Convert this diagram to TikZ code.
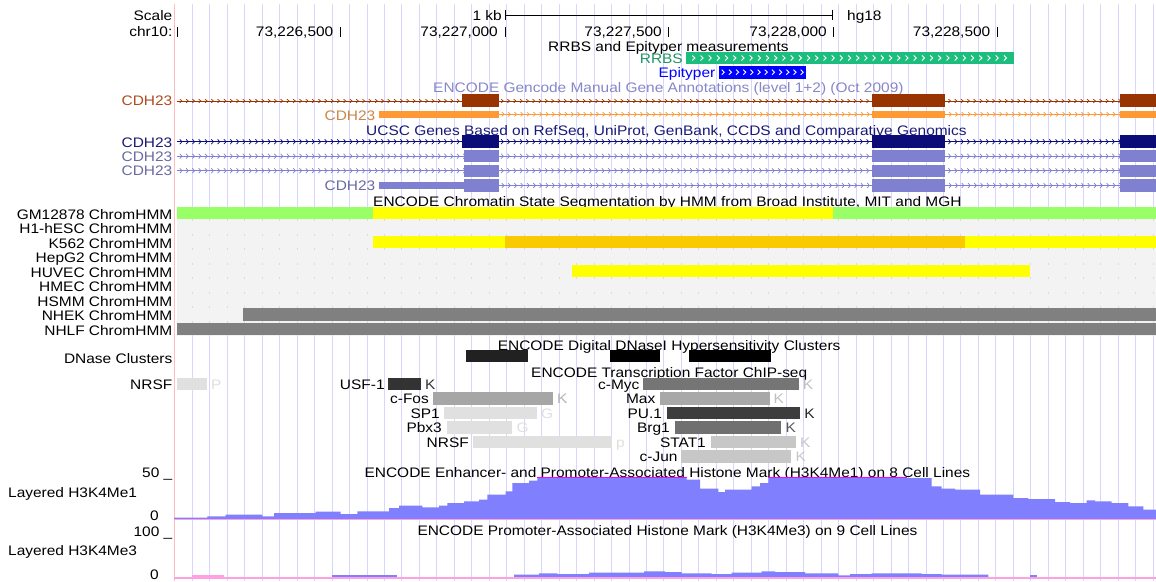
\documentclass[tikz,border=0pt]{standalone}
\usepackage{fontspec}
\setmainfont{Liberation Sans}[FakeStretch=1.12]
\definecolor{gridc}{RGB}{214,214,255}
\definecolor{pinkv}{RGB}{255,190,190}
\definecolor{rrbsg}{RGB}{29,190,125}
\definecolor{rrbst}{RGB}{30,150,100}
\definecolor{epib}{RGB}{0,0,255}
\definecolor{gencT}{RGB}{135,135,200}
\definecolor{brownc}{RGB}{153,51,0}
\definecolor{brownT}{RGB}{175,75,30}
\definecolor{orangec}{RGB}{255,153,51}
\definecolor{orangeT}{RGB}{200,135,70}
\definecolor{navyc}{RGB}{12,12,120}
\definecolor{navyT}{RGB}{25,25,120}
\definecolor{lavc}{RGB}{128,128,208}
\definecolor{lavT}{RGB}{105,105,165}
\definecolor{hmmbg}{RGB}{243,243,243}
\definecolor{hmmgreen}{RGB}{153,255,102}
\definecolor{hmmyellow}{RGB}{255,255,0}
\definecolor{hmmorange}{RGB}{250,202,0}
\definecolor{hmmgray}{RGB}{128,128,128}
\definecolor{histblue}{RGB}{128,128,255}
\definecolor{histpink}{RGB}{255,160,225}
\definecolor{magentac}{RGB}{255,0,255}
\newcommand{\chevrons}[6]{%
  \pgfmathsetmacro{\chevsec}{#3+#4}%
  \foreach \cx in {#3,\chevsec,...,#5}{\draw[#1,line width=0.7] (\cx-1.2,#2-#6) -- (\cx+1.0,#2) -- (\cx-1.2,#2+#6);}}
\newcommand{\tfitem}[9]{%
  \node[lbl,anchor=base east] (#9l) at (#2,#5+11.6) {#1};
  \fill[#6] (#3,#5) rectangle (#4,#5+12.3);
  \node[lbl,anchor=base west,text=#8] (#9k) at (#4+4,#5+11.6) {#7};}
\begin{document}
\begin{tikzpicture}[x=1pt,y=-1pt,
  lbl/.style={inner sep=0pt,font=\fontsize{13.8}{16}\selectfont}]
\useasboundingbox (0,0) rectangle (1156,581);
\fill[white] (0,0) rectangle (1156,581);
% grid
\foreach \k in {0,...,55}{\draw[gridc,line width=1] ({192.3+\k*17.47},4) -- ({192.3+\k*17.47},581);}
\draw[pinkv,line width=1.4] (174.5,4) -- (174.5,581);
% chromHMM background
\fill[hmmbg] (177,206.5) rectangle (1156,335.5);
\foreach \k in {0,...,55}{\draw[gridc,line width=1,dash pattern=on 2pt off 12.5pt] ({192.3+\k*17.47},219.2) -- ({192.3+\k*17.47},335.5);}

% ---------- texts ----------
\node[lbl,anchor=base east] (scale) at (172.5,20.7) {Scale};
\node[lbl,anchor=base east] (chr) at (172.5,36.7) {chr10:};
\node[lbl,anchor=base east] (p1) at (333.5,36.7) {73,226,500};
\node[lbl,anchor=base east] (p2) at (498,36.7) {73,227,000};
\node[lbl,anchor=base east] (p3) at (662,36.7) {73,227,500};
\node[lbl,anchor=base east] (p4) at (827,36.7) {73,228,000};
\node[lbl,anchor=base east] (p5) at (990.5,36.7) {73,228,500};
\node[lbl,anchor=base east] (kb) at (502,20.5) {1 kb};
\node[lbl,anchor=base west] (hg) at (847,20.5) {hg18};
\node[lbl,anchor=base west] (rrbstitle) at (548,51.3) {RRBS and Epityper measurements};
\node[lbl,anchor=base east,text=rrbst] (rrbsl) at (683,63.3) {RRBS};
\node[lbl,anchor=base east,text=epib] (epil) at (715.5,77.7) {Epityper};
\node[lbl,anchor=base west,text=gencT] (genct) at (433,92.7) {ENCODE Gencode Manual Gene Annotations (level 1+2) (Oct 2009)};
\node[lbl,anchor=base east,text=brownT] (g1) at (172.5,105.7) {CDH23};
\node[lbl,anchor=base east,text=orangeT] (g2) at (375.5,120) {CDH23};
\node[lbl,anchor=base west,text=navyT] (ucsct) at (366,135.7) {UCSC Genes Based on RefSeq, UniProt, GenBank, CCDS and Comparative Genomics};
\node[lbl,anchor=base east,text=navyT] (g3) at (172.5,147.3) {CDH23};
\node[lbl,anchor=base east,text=lavT] (g4) at (172.5,161.7) {CDH23};
\node[lbl,anchor=base east,text=lavT] (g5) at (172.5,175.7) {CDH23};
\node[lbl,anchor=base east,text=lavT] (g6) at (375.5,190.7) {CDH23};
\node[lbl,anchor=base west] (hmmt) at (373,206.7) {ENCODE Chromatin State Segmentation by HMM from Broad Institute, MIT and MGH};
\foreach \nm [count=\i from 0] in {GM12878,H1-hESC,K562,HepG2,HUVEC,HMEC,HSMM,NHEK,NHLF}{
  \node[lbl,anchor=base east] (hmm\i) at (172.5,219+14.5*\i) {\nm{} ChromHMM};}
\node[lbl,anchor=base west] (dnt) at (497.6,350) {ENCODE Digital DNaseI Hypersensitivity Clusters};
\node[lbl,anchor=base east] (dnl) at (172.5,363.3) {DNase Clusters};
\node[lbl,anchor=base west] (tft) at (531,377.7) {ENCODE Transcription Factor ChIP-seq};
\node[lbl,anchor=base west] (h1t) at (364.4,477.7) {ENCODE Enhancer- and Promoter-Associated Histone Mark (H3K4Me1) on 8 Cell Lines};
\node[lbl,anchor=base east] (h1max) at (172.5,477.7) {50 \_};
\node[lbl,anchor=base west] (h1l) at (8,497.7) {Layered H3K4Me1};
\node[lbl,anchor=base east] (h1min) at (159,520) {0};
\node[lbl,anchor=base west] (h3t) at (417.3,535.7) {ENCODE Promoter-Associated Histone Mark (H3K4Me3) on 9 Cell Lines};
\node[lbl,anchor=base east] (h3max) at (172.5,536.7) {100 \_};
\node[lbl,anchor=base west] (h3l) at (8,555) {Layered H3K4Me3};
\node[lbl,anchor=base east] (h3min) at (159,579) {0};

% ---------- ruler ----------
\draw[black,line width=1] (505.4,15) -- (832.6,15);
\draw[black,line width=1] (505.4,10.3) -- (505.4,19.7);
\draw[black,line width=1] (832.6,9.5) -- (832.6,20);
\foreach \tx in {177,340,505.4,668.5,833,997}{\draw[black,line width=1] (\tx,27) -- (\tx,36.5);}

% ---------- RRBS / Epityper ----------
\fill[rrbsg] (686,52) rectangle (1014,64);
\foreach \i in {0,...,38}{\draw[white,line width=0.9] ({693.6+\i*8.2-1.3},55.5) -- ({693.6+\i*8.2+1.3},58) -- ({693.6+\i*8.2-1.3},60.5);}
\fill[epib] (719,66) rectangle (806,78.5);
\foreach \i in {0,...,11}{\draw[white,line width=0.9] ({723+\i*7.18-1.3},69.7) -- ({723+\i*7.18+1.3},72.2) -- ({723+\i*7.18-1.3},74.7);}

% ---------- gene tracks ----------
% Gencode brown
\draw[brownc,line width=0.8] (177,101) -- (1156,101);
\chevrons{brownc}{101}{181}{6.3}{1154}{1.8}
\fill[brownc] (462.4,94) rectangle (498.7,106.5);
\fill[brownc] (872,94) rectangle (945,106.5);
\fill[brownc] (1120,94) rectangle (1156,106.5);
% Gencode orange
\fill[orangec] (379,111) rectangle (498.7,117.5);
\draw[orangec,line width=0.8] (498.7,114.2) -- (1156,114.2);
\chevrons{orangec}{114.2}{503}{6.3}{1154}{2.2}
\fill[orangec] (872,111) rectangle (945,117.5);
\fill[orangec] (1120,111) rectangle (1156,117.5);
% UCSC navy
\draw[navyc,line width=0.8] (177,141.7) -- (1156,141.7);
\chevrons{navyc}{141.7}{181}{6.3}{1154}{2.4}
\fill[navyc] (462.4,135) rectangle (498.7,148.3);
\fill[navyc] (872,135) rectangle (945,148.3);
\fill[navyc] (1120,135) rectangle (1156,148.3);
% UCSC lavender 1
\draw[lavc,line width=0.8] (177,156.2) -- (1156,156.2);
\chevrons{lavc}{156.2}{181}{6.3}{1154}{2.4}
\fill[lavc] (463.5,150) rectangle (498.7,162.4);
\fill[lavc] (872,150) rectangle (945,162.4);
\fill[lavc] (1120,150) rectangle (1156,162.4);
% UCSC lavender 2
\draw[lavc,line width=0.8] (177,170.7) -- (1156,170.7);
\chevrons{lavc}{170.7}{181}{6.3}{1154}{2.4}
\fill[lavc] (463.5,164.6) rectangle (498.7,177);
\fill[lavc] (872,164.6) rectangle (945,177);
\fill[lavc] (1120,164.6) rectangle (1156,177);
% UCSC lavender 3
\fill[lavc] (379,182) rectangle (463.5,189);
\fill[lavc] (463.5,179) rectangle (498.7,191.6);
\draw[lavc,line width=0.8] (498.7,185.5) -- (1156,185.5);
\chevrons{lavc}{185.5}{503}{6.3}{1154}{2.4}
\fill[lavc] (872,179) rectangle (945,191.6);
\fill[lavc] (1120,179) rectangle (1156,191.6);

% ---------- ChromHMM ----------
\fill[hmmgreen] (177,206.7) rectangle (373,219.2);
\fill[hmmyellow] (373,206.7) rectangle (833,219.2);
\fill[hmmgreen] (833,206.7) rectangle (1156,219.2);
\fill[hmmyellow] (373,235.7) rectangle (505,248.2);
\fill[hmmorange] (505,235.7) rectangle (965,248.2);
\fill[hmmyellow] (965,235.7) rectangle (1156,248.2);
\fill[hmmyellow] (571.6,264.7) rectangle (1030,277.2);
\fill[hmmgray] (243,308.2) rectangle (1156,320.7);
\fill[hmmgray] (177,322.7) rectangle (1156,335.2);

% ---------- DNase ----------
\fill[black!87] (466,350) rectangle (528,362.3);
\fill[black] (610.4,350) rectangle (660,362.3);
\fill[black] (688.8,350) rectangle (771,362.3);

% ---------- TF ChIP-seq ----------
\tfitem{NRSF}{172.5}{177}{207}{377.7}{black!12}{P}{black!12}{nrsfa}
\tfitem{USF-1}{384.8}{387.7}{421}{377.7}{black!80}{K}{black!80}{usf}
\tfitem{c-Myc}{639.6}{642.6}{798.7}{377.7}{black!54}{K}{black!25}{myc}
\tfitem{c-Fos}{429}{432.8}{553}{392.2}{black!35}{K}{black!30}{fos}
\tfitem{Max}{655.5}{660.4}{769.5}{392.2}{black!34}{K}{black!25}{max}
\tfitem{SP1}{440}{444}{537}{406.7}{black!12}{G}{black!12}{sp}
\tfitem{PU.1}{662.2}{667.4}{800.2}{406.7}{black!76}{K}{black!85}{pu}
\tfitem{Pbx3}{442}{446.5}{512.4}{421.2}{black!12}{G}{black!12}{pbx}
\tfitem{Brg1}{670}{674.8}{781.3}{421.2}{black!56}{K}{black!65}{brg}
\tfitem{NRSF}{469}{472.8}{612}{435.7}{black!12}{p}{black!12}{nrsfb}
\tfitem{STAT1}{706}{710.7}{795.8}{435.7}{black!22}{K}{black!22}{stat}
\tfitem{c-Jun}{677.7}{681.4}{791.3}{450.2}{black!22}{K}{black!22}{jun}

% ---------- H3K4Me1 histogram ----------
\fill[histblue] (174,518.8) -- (174,517.5) -| (207.3,516.3) -| (225.7,514.7) -| (262.3,516.3)
 -| (274,513) -| (315.7,511.7) -| (340.7,514) -| (357.3,511.3) -| (389,508) -| (399,505.7)
 -| (422.3,507.3) -| (439,505.7) -| (447.3,503) -| (464,501.3) -| (479,499.7) -| (487.3,494.7)
 -| (505.7,491.3) -| (512.3,483) -| (529,480.7) -| (537.3,477.3) -| (686.7,479.7) -| (700,488.7)
 -| (718.3,492) -| (725,489.7) -| (751.7,486.3) -| (760,483) -| (768.3,477.3) -| (906.7,478)
 -| (931.7,486.3) -| (941.7,488.7) -| (955,489.7) -| (980,494.7) -| (1013.3,498) -| (1028.3,499)
 -| (1055,502) -| (1070,503) -| (1086.7,500.3) -| (1095,501.3) -| (1111.7,503) -| (1128.3,506.3)
 -| (1143.3,509.7) -| (1156,518.8) -- cycle;
\draw[histpink,line width=1.4] (174,519.4) -- (1156,519.4);
\draw[magentac,line width=1.5] (537.3,477.6) -- (686.7,477.6);
\draw[magentac,line width=1.5] (768.3,477.6) -- (906.7,477.6);

% ---------- H3K4Me3 histogram ----------
\fill[histpink] (192.3,577.3) rectangle (224,575.3);
\fill[histblue] (332.3,577.3) rectangle (397.3,575.3);
\fill[histblue] (514,577.3) -- (514,574.7) -| (539,573.3) -| (557.3,574) -| (589,572.7) -| (644,571.3)
 -| (665,572) -| (681.7,573.3) -| (711.7,574) -| (731.7,572.7) -| (761.7,571.3) -| (775,572)
 -| (805,573.3) -| (838.3,575.3) -| (850,574) -| (871.7,573.3) -| (921.7,574) -| (941.7,574.7)
 -| (988.3,577.3) -- cycle;
\fill[histblue] (1030,577.3) rectangle (1037,575.3);
\draw[histpink,line width=1.4] (174,578) -- (1156,578);
\end{tikzpicture}
\end{document}
